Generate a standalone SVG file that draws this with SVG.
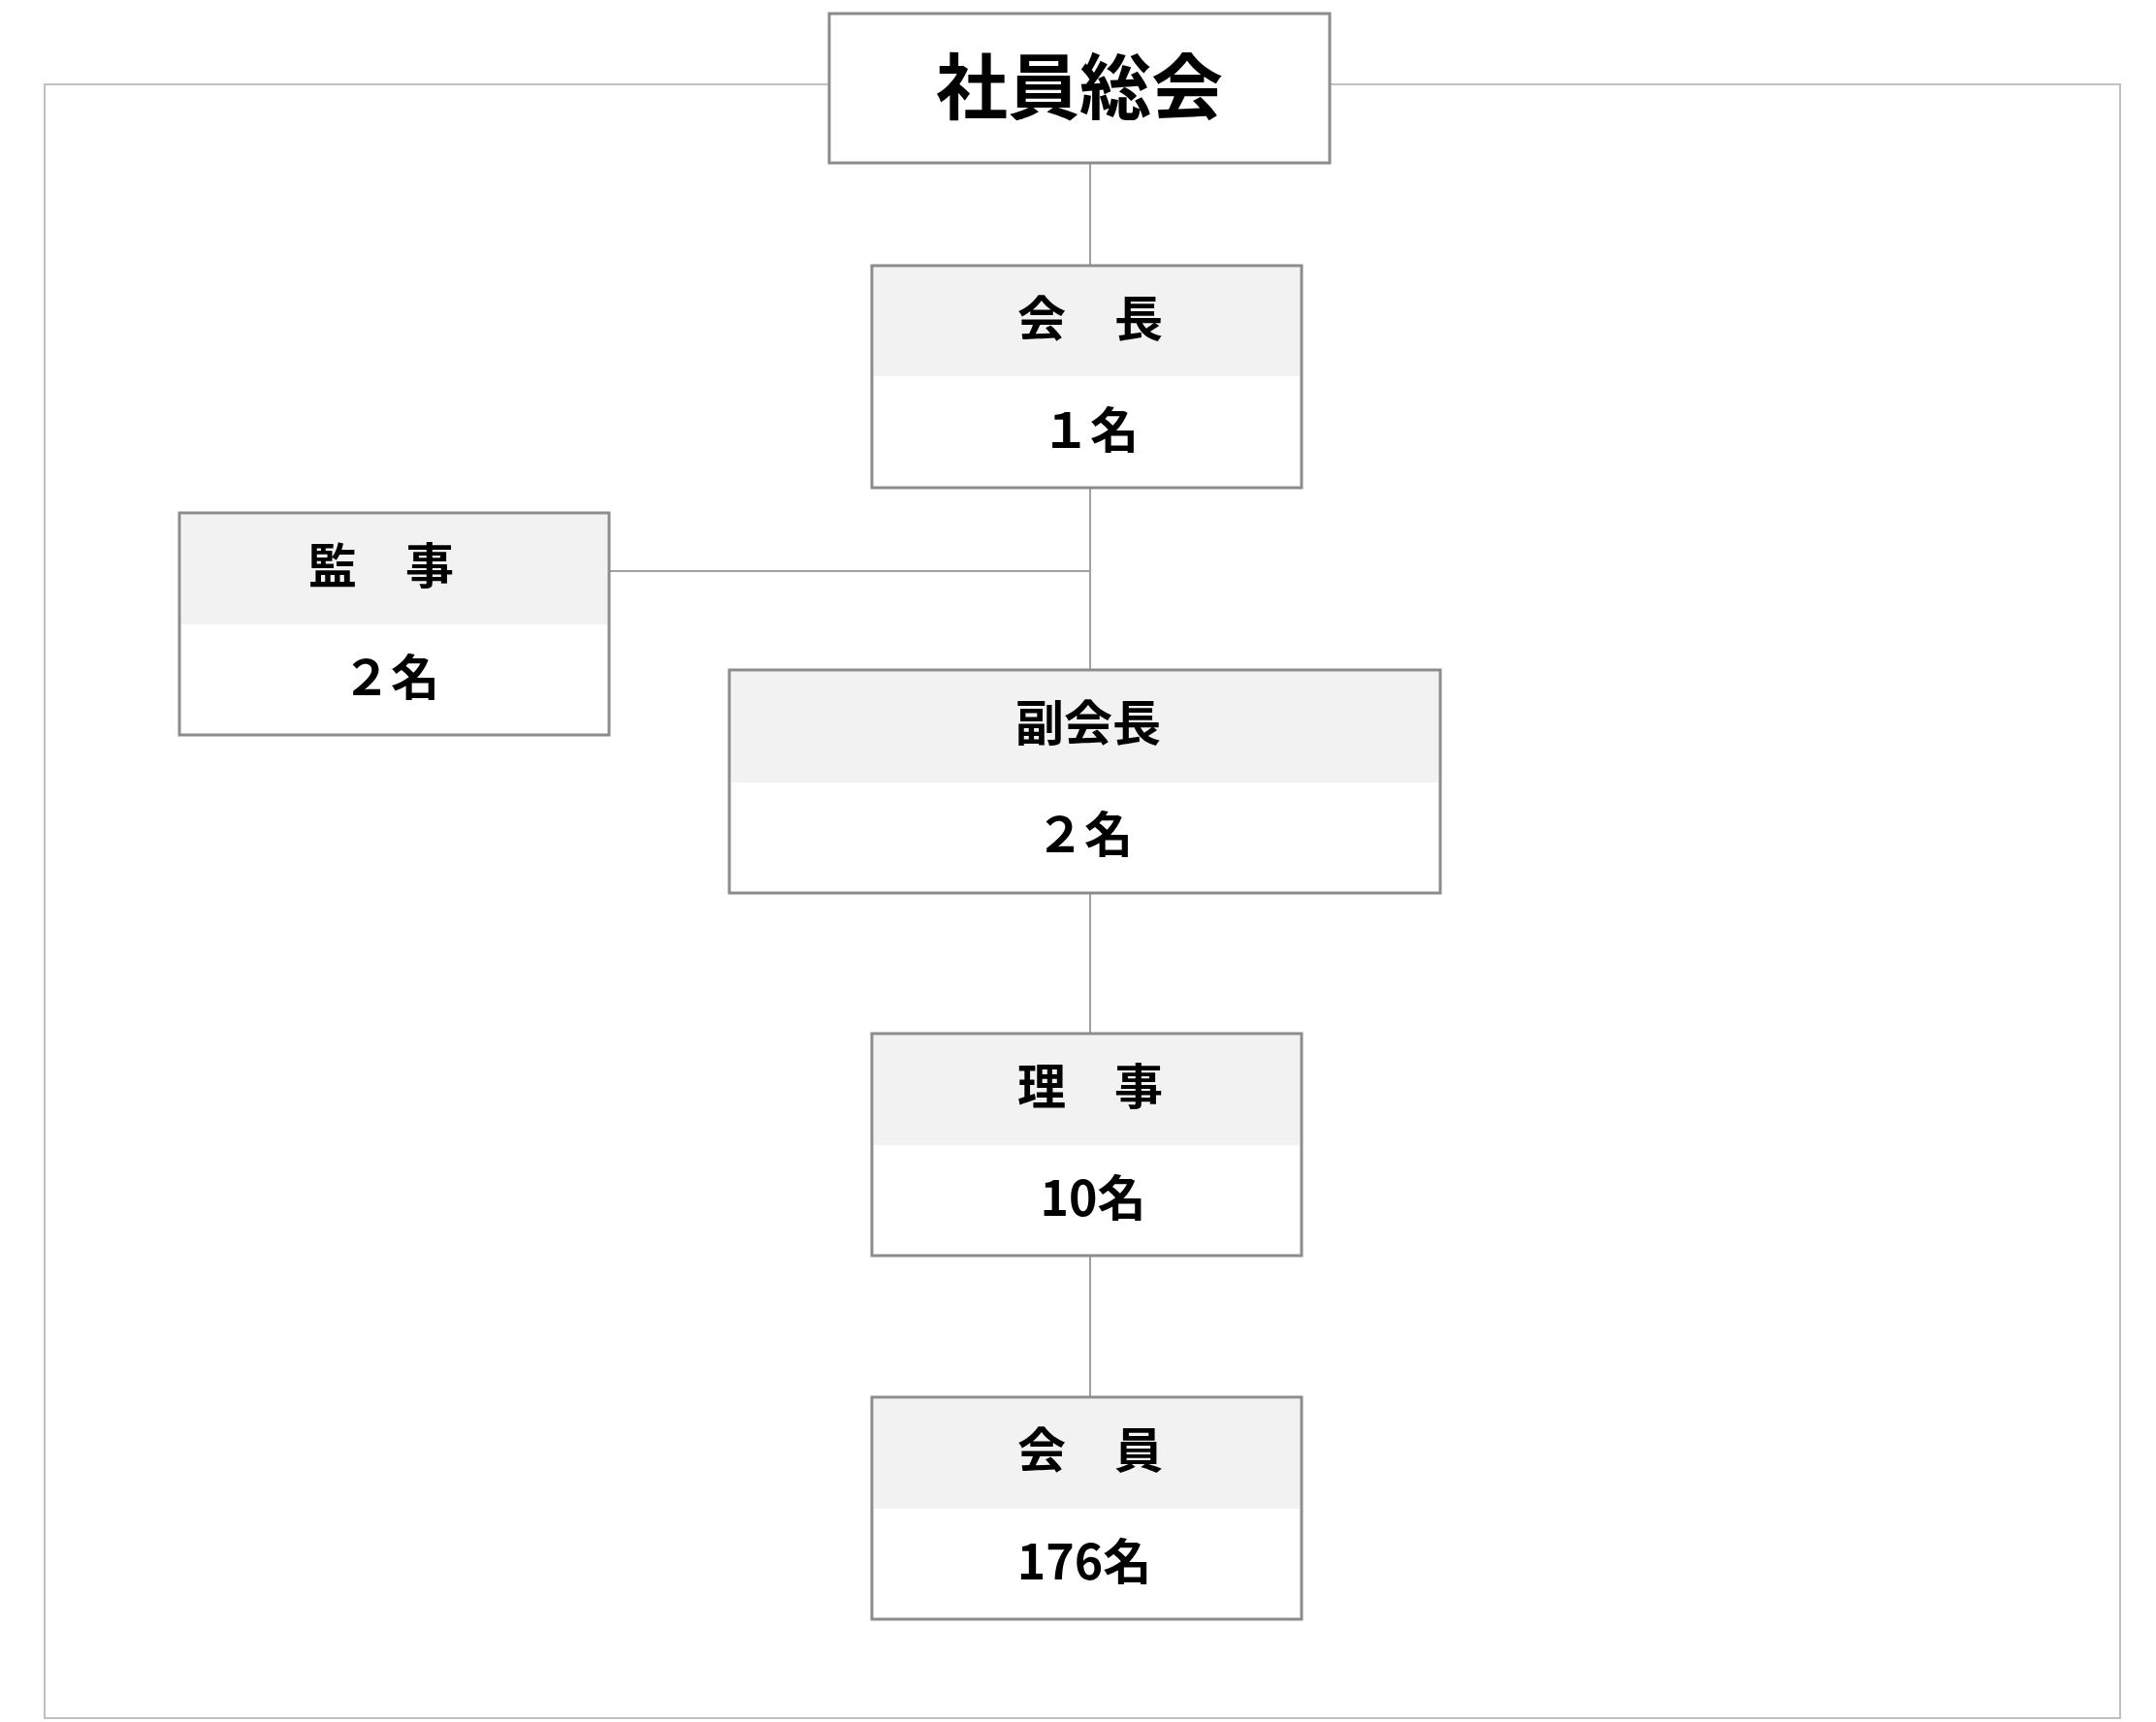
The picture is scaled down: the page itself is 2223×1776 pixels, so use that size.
<svg xmlns="http://www.w3.org/2000/svg" width="2223" height="1776" viewBox="0 0 2223 1776">
<style>
.box{fill:#fff;stroke:#8c8c8c;stroke-width:3}
.hd{fill:#f2f2f2}
.t{font-family:"Noto Sans CJK JP","Noto Sans",sans-serif;font-weight:bold;font-size:50px;text-anchor:middle;fill:#000}
.c{stroke:#a0a0a0;stroke-width:2;fill:none}
</style>
<rect width="2223" height="1776" fill="#fff"/>
<g id="connectors">
<rect x="46" y="87" width="2140" height="1685" fill="none" stroke="#c0c0c0" stroke-width="2"/>
<line class="c" x1="1124" y1="168" x2="1124" y2="1441"/>
<line class="c" x1="628" y1="589" x2="1124" y2="589"/>
</g>
<g id="n-soukai">
<rect class="box" x="855" y="14" width="516" height="154"/>
<text class="t" x="1113" y="117" style="font-size:74px">社員総会</text>
</g>
<g id="n-kaichou">
<rect class="box" x="899" y="274" width="443" height="229"/>
<rect class="hd" x="901" y="276" width="439" height="112"/>
<text class="t" x="1124" y="347">会　長</text>
<text class="t" x="1124" y="462">１名</text>
</g>
<g id="n-kanji">
<rect class="box" x="185" y="529" width="443" height="229"/>
<rect class="hd" x="187" y="531" width="439" height="113"/>
<text class="t" x="393" y="602">監　事</text>
<text class="t" x="403" y="717">２名</text>
</g>
<g id="n-fukukaichou">
<rect class="box" x="752" y="691" width="733" height="230"/>
<rect class="hd" x="754" y="693" width="729" height="114"/>
<text class="t" x="1122" y="764">副会長</text>
<text class="t" x="1118" y="879">２名</text>
</g>
<g id="n-riji">
<rect class="box" x="899" y="1066" width="443" height="229"/>
<rect class="hd" x="901" y="1068" width="439" height="113"/>
<text class="t" x="1124" y="1139">理　事</text>
<text class="t" x="1127" y="1254">10名</text>
</g>
<g id="n-kaiin">
<rect class="box" x="899" y="1441" width="443" height="229"/>
<rect class="hd" x="901" y="1443" width="439" height="113"/>
<text class="t" x="1124" y="1514">会　員</text>
<text class="t" x="1118" y="1629">176名</text>
</g>
</svg>
